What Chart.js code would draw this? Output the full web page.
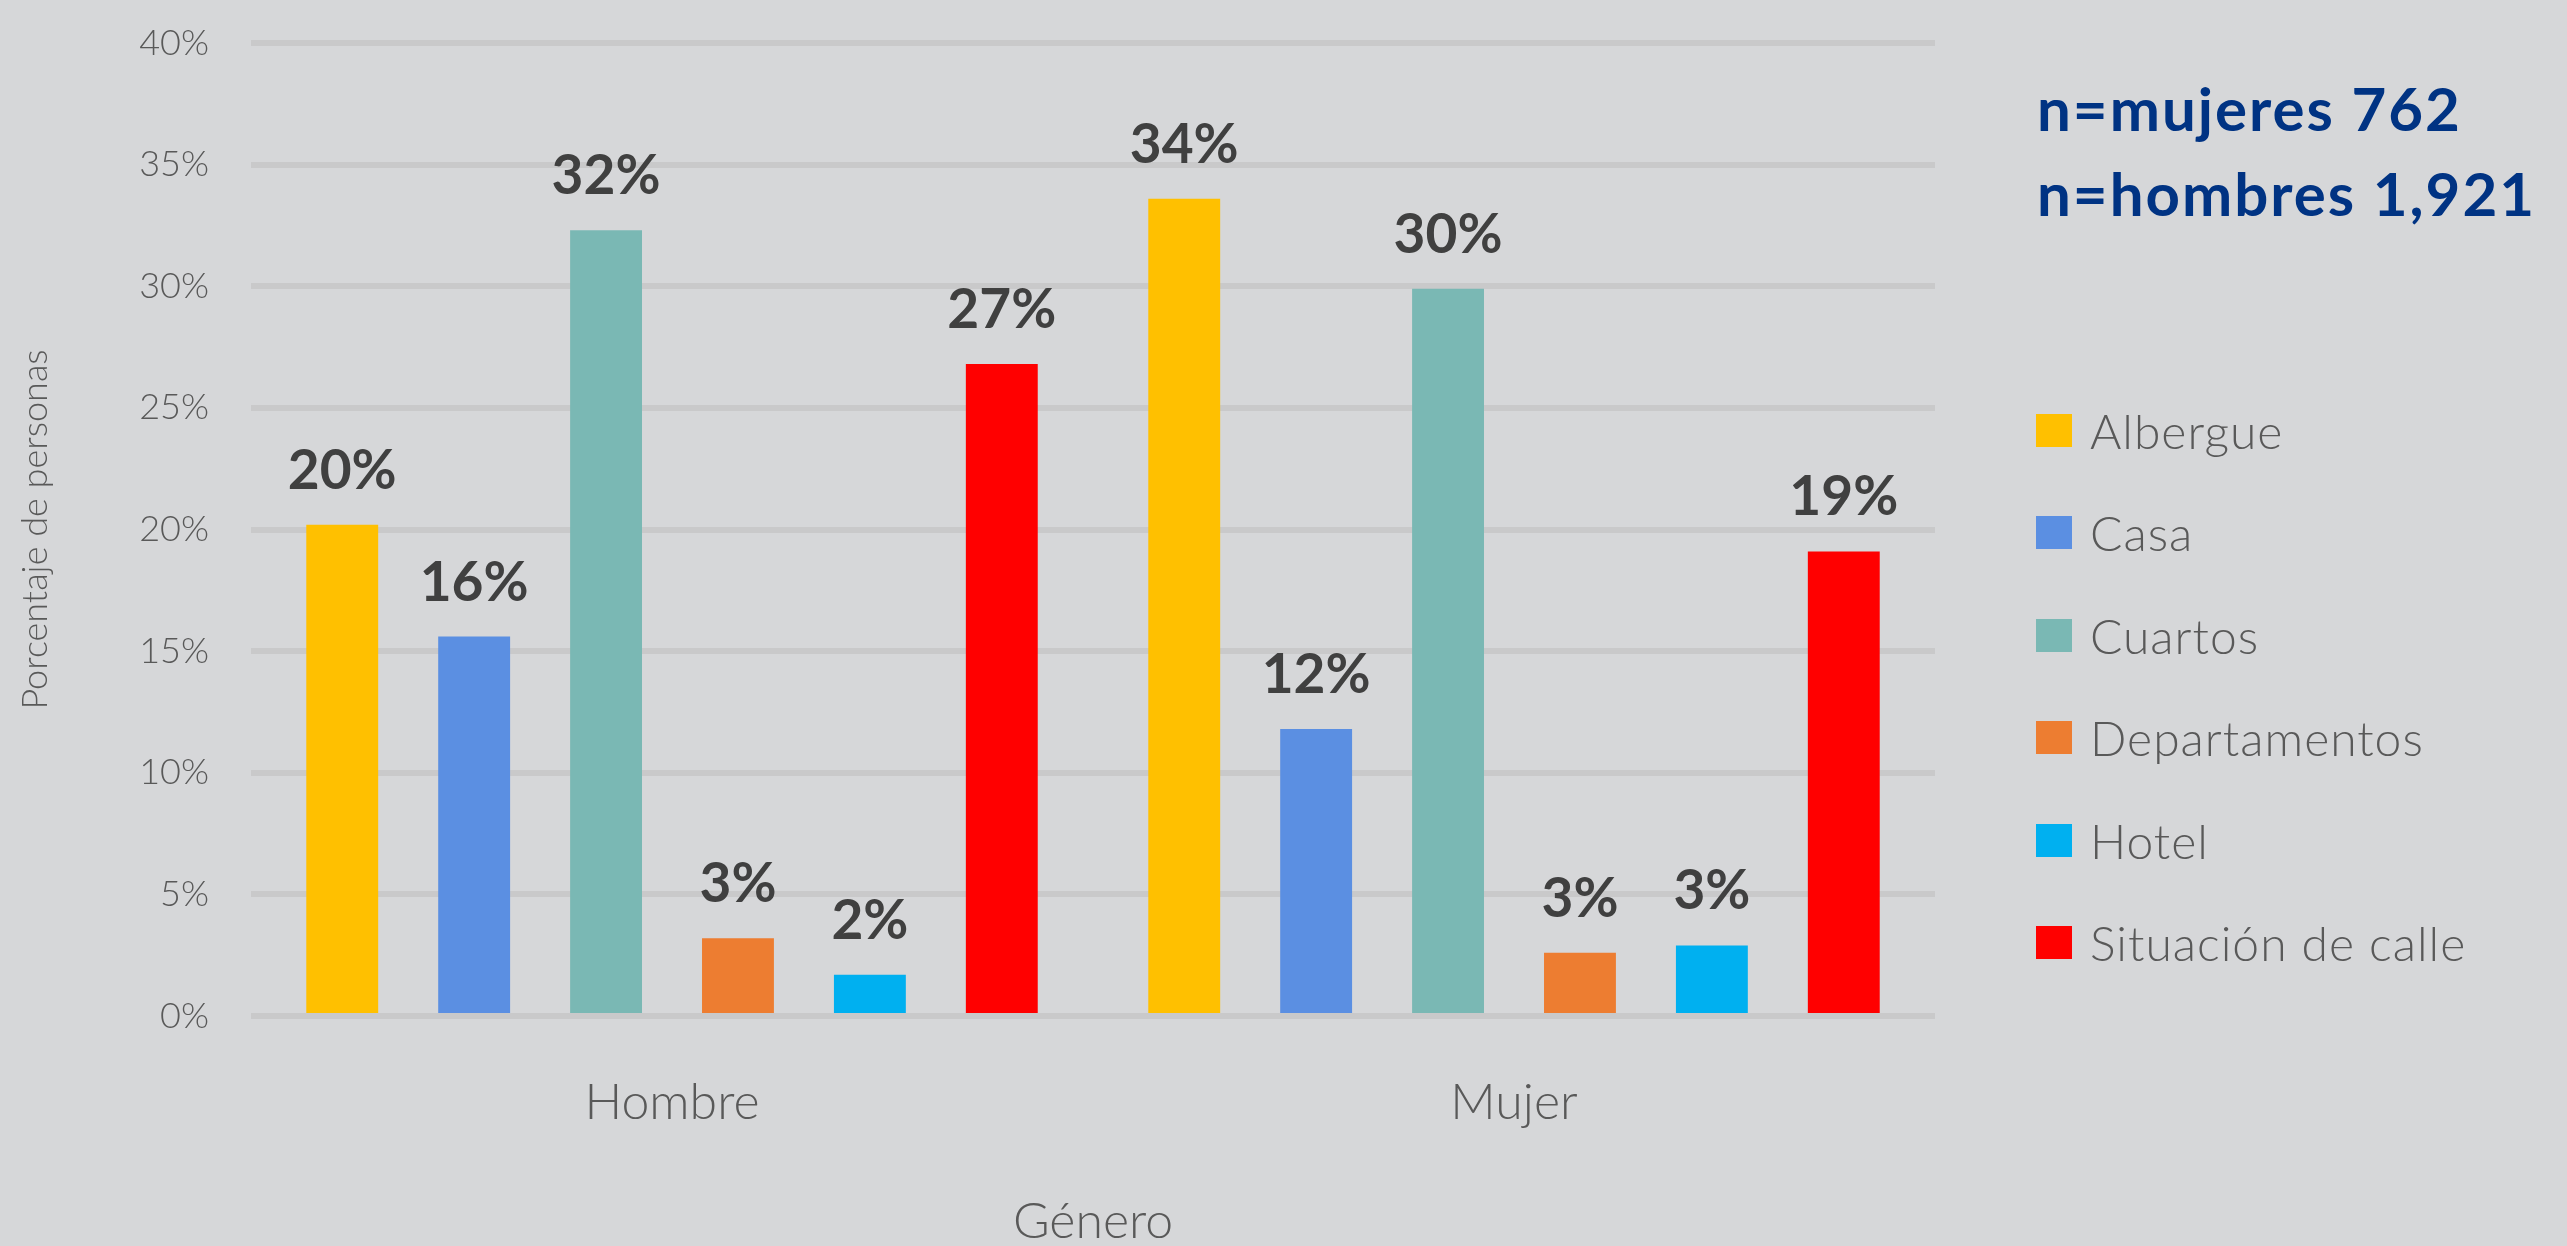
<!DOCTYPE html>
<html>
<head>
<meta charset="utf-8">
<script src="https://cdn.jsdelivr.net/npm/chart.js@4.4.1/dist/chart.umd.min.js"></script>
<style>
  body { margin: 0; background: #d6d7d9; }
  #wrap { position: relative; width: 2567px; height: 1246px; overflow: hidden; }
  #note { position: absolute; left: 2037px; top: 66px; color: #003383; font: bold 60px Lato, sans-serif; letter-spacing: 2px; line-height: 85px; white-space: nowrap; }
  #legend { position: absolute; left: 2036px; top: 379px; }
  .item { height: 102.5px; display: flex; align-items: center; color: #595959; font: 300 48px Lato, sans-serif; letter-spacing: 1px; white-space: nowrap; }
  .item span.box { width: 36px; height: 33px; margin-right: 18px; display: inline-block; }
</style>
</head>
<body>
<div id="wrap">
  <canvas id="chart" width="2567" height="1246"></canvas>
  <div id="note"></div>
  <div id="legend"></div>
</div>
<script>
// datos
const generos = ['Hombre', 'Mujer'];
const lugares = ['Albergue', 'Casa', 'Cuartos', 'Departamentos', 'Hotel', 'Situación de calle'];
const colores = ['#ffc000', '#5b8fe2', '#7ab8b4', '#ed7d31', '#00b0f0', '#ff0000'];
const albergue = [20.2, 33.6];
const casa = [15.6, 11.8];
const cuartos = [32.3, 29.9];
const departamentos = [3.2, 2.6];
const hotel = [1.7, 2.9];
const calle = [26.8, 19.1];
const yTicks = [0, 5, 10, 15, 20, 25, 30, 35, 40];
const notas = ['n=mujeres 762', 'n=hombres 1,921'];

const series = [albergue, casa, cuartos, departamentos, hotel, calle];

document.getElementById('note').innerHTML = notas.join('<br>');
document.getElementById('legend').innerHTML = lugares.map((l, i) =>
  '<div class="item"><span class="box" style="background:' + colores[i] + '"></span>' + l + '</div>'
).join('');

const etiquetas = {
  id: 'etiquetas',
  afterDatasetsDraw(chart) {
    const ctx = chart.ctx;
    ctx.save();
    ctx.font = 'bold 55px Lato, sans-serif';
    ctx.fillStyle = '#404040';
    ctx.textAlign = 'center';
    ctx.textBaseline = 'alphabetic';
    chart.data.datasets.forEach((ds, i) => {
      chart.getDatasetMeta(i).data.forEach((bar, j) => {
        ctx.fillText(Math.round(ds.data[j]) + '%', bar.x, bar.y - 36);
      });
    });
    ctx.restore();
  }
};

new Chart(document.getElementById('chart'), {
  type: 'bar',
  data: {
    labels: generos,
    datasets: lugares.map((l, i) => ({
      label: l,
      data: series[i],
      backgroundColor: colores[i],
      categoryPercentage: 0.94,
      barPercentage: 0.545
    }))
  },
  options: {
    responsive: false,
    animation: false,
    layout: { padding: { top: 43, right: 632, bottom: 0, left: 0 } },
    plugins: {
      legend: { display: false },
      tooltip: { enabled: false }
    },
    scales: {
      x: {
        grid: { display: false, drawTicks: false },
        border: { display: false },
        ticks: { color: '#595959', font: { family: 'Lato', weight: 300, size: 50, lineHeight: 1.2 }, padding: 57 },
        title: { display: true, text: 'Género', color: '#595959', font: { family: 'Lato', weight: 300, size: 50, lineHeight: 1.2 }, padding: { top: 2, bottom: -6 } }
      },
      y: {
        min: 0,
        max: 40,
        afterBuildTicks(scale) { scale.ticks = yTicks.map(v => ({ value: v })); },
        grid: { color: '#c9c9ca', lineWidth: 6, drawTicks: false },
        border: { display: false },
        // lineHeight pequeño para que el area empiece en 40%
        ticks: { color: '#595959', font: { family: 'Lato', weight: 300, size: 36, lineHeight: 0.05 }, padding: 42, callback: v => v + '%' },
        title: { display: true, text: 'Porcentaje de personas', color: '#595959', font: { family: 'Lato', weight: 300, size: 36, lineHeight: 1.2 }, padding: { top: 14, bottom: 40 } }
      }
    }
  },
  plugins: [etiquetas]
});
</script>
</body>
</html>
